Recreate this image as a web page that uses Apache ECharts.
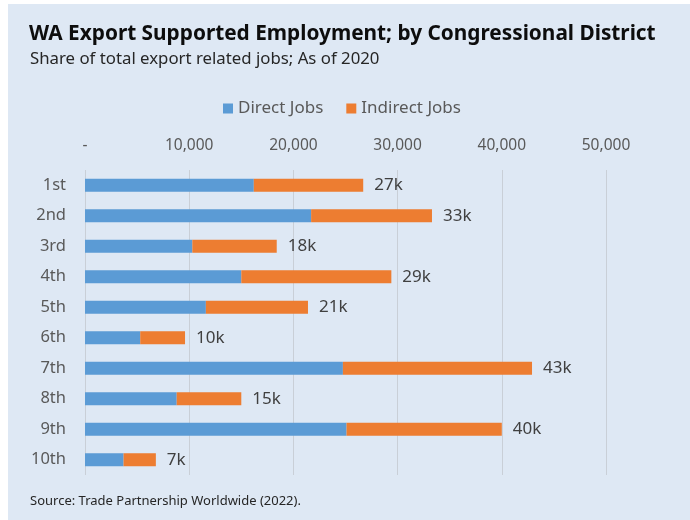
<!DOCTYPE html>
<html>
<head>
<meta charset="utf-8">
<script src="https://cdn.jsdelivr.net/npm/echarts@6/dist/echarts.min.js"></script>
<style>html,body{margin:0;padding:0;background:#fff}#c{width:690px;height:520px}</style>
</head>
<body>
<div id="c"></div>
<script>
const categories = ['1st','2nd','3rd','4th','5th','6th','7th','8th','9th','10th'];
const directJobs = [16200, 21700, 10300, 15000, 11600, 5300, 24750, 8800, 25100, 3700];
const indirectJobs = [10500, 11600, 8100, 14400, 9800, 4300, 18150, 6200, 14900, 3100];
const totalLabels = ['27k','33k','18k','29k','21k','10k','43k','15k','40k','7k'];
const xTicks = [0, 10000, 20000, 30000, 40000, 50000];

const FONT = '"Noto Sans", sans-serif';
const chart = echarts.init(document.getElementById('c'), null, {renderer: 'canvas'});
chart.setOption({
  backgroundColor: '#ffffff',
  animation: false,
  graphic: [{type: 'rect', z: -10, shape: {x: 8, y: 4, width: 682, height: 516}, style: {fill: '#DEE8F4'}}],
  title: [
    {text: 'WA Export Supported Employment; by Congressional District', left: 24, top: 19,
     textStyle: {fontFamily: FONT, fontWeight: 'bold', fontSize: 20.8, color: '#0d0d0d'}},
    {text: 'Share of total export related jobs; As of 2020', left: 25, top: 46,
     textStyle: {fontFamily: FONT, fontWeight: 'normal', fontSize: 16.8, color: '#262626'}},
    {text: 'Source: Trade Partnership Worldwide (2022).', left: 25, top: 490,
     textStyle: {fontFamily: FONT, fontWeight: 'normal', fontSize: 13, color: '#262626'}}
  ],
  legend: {
    top: 95, left: 218, icon: 'rect', itemWidth: 10, itemHeight: 10, itemGap: 23,
    textStyle: {fontFamily: FONT, fontSize: 17, color: '#595959'},
    data: ['Direct Jobs', 'Indirect Jobs']
  },
  grid: {left: 85, right: 84, top: 170, bottom: 45, containLabel: false},
  xAxis: {
    type: 'value', position: 'top', min: 0, max: 50000, interval: 10000,
    axisLine: {show: false}, axisTick: {show: false},
    splitLine: {show: true, lineStyle: {color: '#C9CFD7', width: 1}},
    axisLabel: {margin: 16, fontFamily: FONT, fontSize: 15.5, color: '#595959',
      formatter: v => v === 0 ? '-' : v.toLocaleString('en-US')}
  },
  yAxis: {
    type: 'category', data: categories, inverse: true,
    axisLine: {show: false}, axisTick: {show: false}, splitLine: {show: false},
    axisLabel: {margin: 19, fontFamily: FONT, fontSize: 16.5, color: '#595959'}
  },
  series: [
    {name: 'Direct Jobs', type: 'bar', stack: 'total', data: directJobs, barWidth: 13,
     itemStyle: {color: '#5B9BD5'}},
    {name: 'Indirect Jobs', type: 'bar', stack: 'total', data: indirectJobs, barWidth: 13,
     itemStyle: {color: '#ED7D31'},
     label: {show: true, position: 'right', distance: 11, fontFamily: FONT, fontSize: 17, color: '#404040',
       formatter: p => totalLabels[p.dataIndex]}}
  ]
});
</script>
</body>
</html>
